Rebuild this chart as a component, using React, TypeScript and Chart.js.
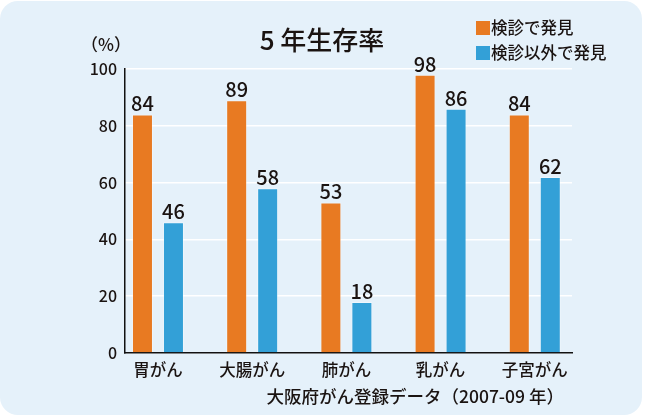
import { useEffect, useRef } from "react";
import { Chart, registerables } from "chart.js";

Chart.register(...registerables);

const categories = ["胃がん", "大腸がん", "肺がん", "乳がん", "子宮がん"];
const screened = [84, 89, 53, 98, 84];
const notScreened = [46, 58, 18, 86, 62];
const seriesLabels = ["検診で発見", "検診以外で発見"];
const seriesColors = ["#E87A22", "#33A0D7"];
const titleText = "5 年生存率";
const unitText = "（%）";
const sourceText = "大阪府がん登録データ（2007-09 年）";

const FONT = '"Noto Sans CJK JP", "Noto Sans", sans-serif';
const INK = "#1a1311";

const decorPlugin = {
  id: "decor",
  afterDatasetsDraw(chart: any) {
    const ctx = chart.ctx;
    const area = chart.chartArea;
    ctx.save();
    ctx.fillStyle = INK;
    // value labels
    ctx.font = `500 20px ${FONT}`;
    ctx.textAlign = "center";
    ctx.textBaseline = "alphabetic";
    chart.data.datasets.forEach((ds: any, di: number) => {
      const meta = chart.getDatasetMeta(di);
      meta.data.forEach((bar: any, i: number) => {
        const v = ds.data[i].y;
        ctx.fillText(String(v), bar.x, bar.y - 3);
      });
    });
    // title
    ctx.font = `500 26px ${FONT}`;
    ctx.textBaseline = "middle";
    ctx.fillText(titleText, 322, 40);
    // unit
    ctx.font = `500 17px ${FONT}`;
    ctx.fillText(unitText, 106, 45);
    // legend
    ctx.textAlign = "left";
    ctx.font = `500 16.5px ${FONT}`;
    chart.data.datasets.forEach((ds: any, di: number) => {
      const cy = 28 + di * 25;
      ctx.fillStyle = ds.backgroundColor;
      ctx.fillRect(476, cy - 7, 14, 14);
      ctx.fillStyle = INK;
      ctx.fillText(ds.label, 491, cy);
    });
    // source
    ctx.textAlign = "right";
    ctx.font = `500 17.5px ${FONT}`;
    ctx.fillText(sourceText, area.right - 8, 396);
    ctx.restore();
  },
};

export default function App() {
  const ref = useRef<HTMLCanvasElement | null>(null);
  useEffect(() => {
    document.body.style.margin = "0";
    if (!ref.current) return;
    const chart = new Chart(ref.current, {
      type: "bar",
      data: {
        datasets: [
          {
            label: seriesLabels[0],
            data: categories.map((_, i) => ({ x: i, y: screened[i] })),
            backgroundColor: seriesColors[0],
            borderColor: "rgba(255,255,255,0.35)",
            borderWidth: 1,
          },
          {
            label: seriesLabels[1],
            data: categories.map((_, i) => ({ x: i, y: notScreened[i] })),
            backgroundColor: seriesColors[1],
            borderColor: "rgba(255,255,255,0.35)",
            borderWidth: 1,
          },
        ],
      },
      options: {
        animation: false,
        responsive: false,
        maintainAspectRatio: false,
        devicePixelRatio: 1,
        categoryPercentage: 0.658,
        barPercentage: 0.677,
        layout: { padding: { top: 69, left: 0, right: 73, bottom: 0 } },
        plugins: {
          legend: { display: false },
          title: { display: false },
          tooltip: { enabled: false },
        },
        scales: {
          x: {
            type: "linear",
            offset: false,
            min: -0.35,
            max: 4.395,
            grid: { display: false, drawTicks: false, offset: false },
            border: { display: true, color: "#111", width: 1.5 },
            afterBuildTicks: (scale: any) => {
              scale.ticks = categories.map((_, i) => ({ value: i }));
            },
            afterFit: (scale: any) => {
              scale.height = 66;
            },
            ticks: {
              autoSkip: false,
              maxRotation: 0,
              padding: 7,
              color: INK,
              font: { family: FONT, size: 16.5, weight: "500" },
              callback: (v: any) => categories[Math.round(Number(v))] ?? "",
            },
          },
          y: {
            min: 0,
            max: 100,
            grid: { color: "#ffffff", lineWidth: 1.5, drawTicks: false },
            border: { display: true, color: "#111", width: 1.5 },
            afterFit: (scale: any) => {
              scale.width = 125;
            },
            ticks: {
              stepSize: 20,
              padding: 8,
              color: INK,
              font: { family: FONT, size: 16, weight: "500" },
            },
          },
        },
      } as any,
      plugins: [decorPlugin],
    });
    return () => chart.destroy();
  }, []);

  return (
    <div style={{ position: "relative", width: 645, height: 419, background: "#ffffff" }}>
      <div
        style={{
          position: "absolute",
          left: 0,
          top: 1,
          width: 642,
          height: 414,
          background: "#E5F1FA",
          borderRadius: 18,
        }}
      />
      <canvas
        ref={ref}
        width={645}
        height={419}
        style={{ position: "absolute", left: 0, top: 0, width: 645, height: 419 }}
      />
    </div>
  );
}
